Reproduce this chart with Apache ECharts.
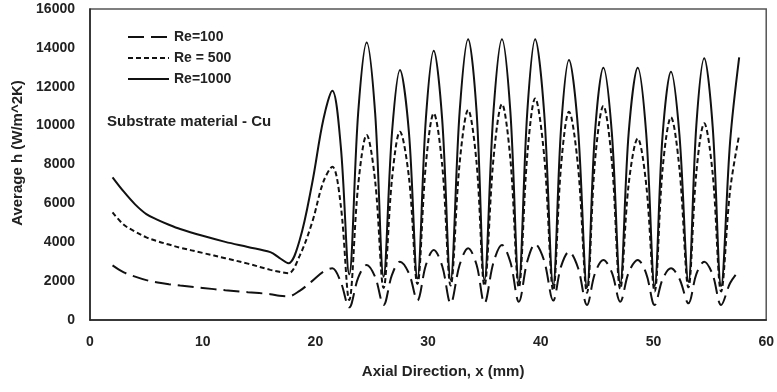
<!DOCTYPE html>
<html>
<head>
<meta charset="utf-8">
<script src="https://cdn.jsdelivr.net/npm/echarts@6/dist/echarts.min.js"></script>
<style>html,body{margin:0;padding:0;background:#fff}#c{width:777px;height:392px}</style>
</head>
<body>
<div id="c"></div>
<script>
var seriesNames = ['Re=100', 'Re = 500', 'Re=1000'];
var xTicks = [0, 10, 20, 30, 40, 50, 60];
var yTicks = [0, 2000, 4000, 6000, 8000, 10000, 12000, 14000, 16000];

var xs = [2, 3, 4, 5, 6, 7, 8, 10, 12, 14, 16, 16.8, 17.6, 18.6, 19.7, 20.7, 21.5,
  22.25, 23.0, 23.8, 24.55, 25.3, 26.05, 26.8, 27.5, 28.3, 29.05, 29.8, 30.5,
  31.25, 32.0, 32.8, 33.55, 34.3, 35.0, 35.8, 36.55, 37.3, 38.05, 38.8, 39.5,
  40.3, 41.1, 41.8, 42.5, 43.3, 44.1, 44.8, 45.55, 46.3, 47.05, 47.8, 48.6,
  49.35, 50.1, 50.8, 51.55, 52.3, 53.1, 53.8, 54.5, 55.25, 56.0, 56.8, 57.6];

var re100 = [2810, 2450, 2230, 2050, 1930, 1840, 1770, 1650, 1530, 1430, 1330, 1250, 1220, 1500, 2000, 2480, 2660,
  1950, 650, 2180, 2830, 2210, 770, 2330, 3000, 2400, 1000, 2820, 3600,
  2780, 860, 2840, 3690, 2840, 860, 2960, 3860, 2980, 940, 3020, 3910,
  3040, 1000, 2760, 3510, 2690, 770, 2390, 3090, 2450, 940, 2450, 3090,
  2390, 770, 2090, 2660, 2120, 860, 2360, 3000, 2330, 770, 1900, 2550];

var re500 = [5540, 4900, 4550, 4250, 4050, 3880, 3720, 3450, 3180, 2900, 2580, 2480, 2400, 3300, 5000, 7100, 7880,
  5900, 1030, 6970, 9520, 7160, 1650, 7280, 9690, 7340, 1850, 8000, 10630,
  7970, 1770, 8090, 10800, 8090, 1760, 8300, 11110, 8280, 1680, 8480, 11400,
  8440, 1520, 7960, 10720, 7920, 1400, 8130, 11010, 8190, 1600, 7020, 9340,
  6980, 1470, 7740, 10430, 7800, 1680, 7590, 10120, 7530, 1470, 6700, 9520];

var re1000 = [7340, 6600, 5950, 5450, 5150, 4900, 4680, 4330, 4020, 3760, 3490, 3200, 2920, 4100, 7000, 10300, 11800,
  8950, 2350, 10700, 14280, 10650, 2230, 9670, 12860, 9640, 2140, 10340, 13850,
  10310, 2060, 10730, 14450, 10730, 2060, 10730, 14450, 10710, 1970, 10710, 14450,
  10650, 1800, 9900, 13370, 9860, 1680, 9590, 12980, 9650, 1890, 9650, 12980,
  9610, 1750, 9460, 12770, 9530, 1970, 10010, 13460, 9950, 1750, 9200, 13510];

function pairs(ys) { return xs.map(function (x, i) { return [x, ys[i]]; }); }

var font = 'Liberation Sans, Arial, sans-serif';
var chart = echarts.init(document.getElementById('c'), null, {renderer: 'canvas'});
chart.setOption({
  animation: false,
  backgroundColor: '#fff',
  grid: {left: 90, right: 9, top: 9, bottom: 72, show: true, borderColor: '#555', borderWidth: 1.5},
  legend: {
    orient: 'vertical', left: 122, top: 25, itemWidth: 41, itemHeight: 14, itemGap: 7,
    data: seriesNames,
    itemStyle: {opacity: 0},
    textStyle: {fontFamily: font, fontWeight: 'bold', fontSize: 14, color: '#222'}
  },
  graphic: [{
    type: 'text', left: 107, top: 114,
    style: {text: 'Substrate material - Cu', fontFamily: font, fontWeight: 'bold', fontSize: 15, fill: '#222'}
  }],
  xAxis: {
    type: 'value', min: 0, max: 60, interval: 10,
    name: 'Axial Direction, x (mm)', nameLocation: 'middle', nameGap: 44,
    nameTextStyle: {fontFamily: font, fontWeight: 'bold', fontSize: 15, color: '#222', padding: [0, 0, 0, 30]},
    axisLine: {lineStyle: {color: '#222', width: 1.5}},
    axisTick: {show: false}, splitLine: {show: false},
    axisLabel: {margin: 15, fontFamily: font, fontWeight: 'bold', fontSize: 14, color: '#222',
      formatter: function (v) { return xTicks.indexOf(v) >= 0 ? String(v) : ''; }}
  },
  yAxis: {
    type: 'value', min: 0, max: 16000, interval: 2000,
    name: 'Average h (W/m^2K)', nameLocation: 'middle', nameGap: 64,
    nameTextStyle: {fontFamily: font, fontWeight: 'bold', fontSize: 15, color: '#222', padding: [0, 0, 0, 23]},
    axisLine: {show: true, lineStyle: {color: '#222', width: 1.5}},
    axisTick: {show: false}, splitLine: {show: false},
    axisLabel: {margin: 15, fontFamily: font, fontWeight: 'bold', fontSize: 14, color: '#222',
      formatter: function (v) { return yTicks.indexOf(v) >= 0 ? String(v) : ''; }}
  },
  series: [
    {name: seriesNames[0], type: 'line', data: pairs(re100), symbol: 'none', smooth: 0.35,
      lineStyle: {color: '#111', width: 2, type: [16, 7]}, itemStyle: {color: '#111'}},
    {name: seriesNames[1], type: 'line', data: pairs(re500), symbol: 'none', smooth: 0.35,
      lineStyle: {color: '#111', width: 2, type: [5, 3]}, itemStyle: {color: '#111'}},
    {name: seriesNames[2], type: 'line', data: pairs(re1000), symbol: 'none', smooth: 0.35,
      lineStyle: {color: '#111', width: 2, type: 'solid'}, itemStyle: {color: '#111'}}
  ]
});
</script>
</body>
</html>
